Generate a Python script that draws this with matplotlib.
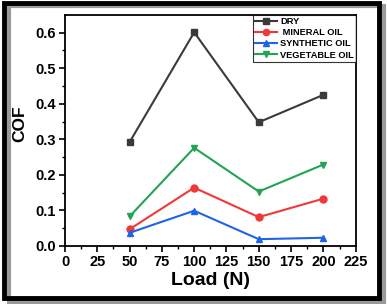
import matplotlib
matplotlib.use("Agg")
import matplotlib.pyplot as plt
from matplotlib.patches import Rectangle

plt.rcParams['font.family'] = ['Liberation Sans', 'DejaVu Sans']
plt.rcParams['font.weight'] = 'bold'

# Datos
carga = [50, 100, 150, 200]
cof_dry = [0.292, 0.601, 0.348, 0.425]
cof_mineral = [0.047, 0.164, 0.081, 0.133]
cof_synthetic = [0.037, 0.099, 0.019, 0.023]
cof_vegetable = [0.083, 0.276, 0.153, 0.229]

series = [
    ("DRY", cof_dry, "#3a3a3a", "s"),
    (" MINERAL OIL", cof_mineral, "#f0383a", "o"),
    ("SYNTHETIC OIL", cof_synthetic, "#1e64e6", "^"),
    ("VEGETABLE OIL", cof_vegetable, "#22a455", "v"),
]

fig = plt.figure(figsize=(3.87, 3.04), dpi=100)
ax = fig.add_axes([0.168, 0.191, 0.751, 0.760])

for nombre, valores, color, marca in series:
    ax.plot(carga, valores, color=color, marker=marca, markersize=5,
            linewidth=1.5, label=nombre)

ax.set_xlim(0, 225)
ax.set_ylim(0, 0.65)
ax.set_xticks(range(0, 226, 25))
ax.set_xticks([12.5 + 25 * i for i in range(9)], minor=True)
ax.set_yticks([0.0, 0.1, 0.2, 0.3, 0.4, 0.5, 0.6])
ax.set_yticks([0.05 + 0.1 * i for i in range(6)], minor=True)
ax.tick_params(axis='both', which='major', direction='out', length=4, width=1.2,
               labelsize=10.5, pad=2.5)
ax.tick_params(axis='both', which='minor', direction='out', length=2.5, width=1)
for lbl in ax.get_xticklabels() + ax.get_yticklabels():
    lbl.set_fontweight('bold')
for s in ax.spines.values():
    s.set_linewidth(1.3)

ax.set_xlabel("Load (N)", fontsize=14, fontweight='bold', labelpad=2)
ax.set_ylabel("COF", fontsize=12.5, fontweight='bold')
ax.yaxis.set_label_coords(-0.131, 0.53)

leg = ax.legend(loc='upper right', fontsize=6.7, frameon=True, fancybox=False,
                edgecolor='black', handlelength=2.4, borderpad=0.2,
                labelspacing=0.25, handletextpad=0.3, borderaxespad=0.0,
                markerscale=0.9)
leg.get_frame().set_linewidth(0.8)
for t in leg.get_texts():
    t.set_fontweight('bold')

# marco exterior con sombra
fig.patches.append(Rectangle((0.022, 0.005), 0.97, 0.975, transform=fig.transFigure,
                             facecolor='none', edgecolor='#9a9a9a', linewidth=3))
fig.patches.append(Rectangle((0.01, 0.02), 0.97, 0.97, transform=fig.transFigure,
                             facecolor='none', edgecolor='black', linewidth=3.5))

fig.savefig("out.png", dpi=100)
